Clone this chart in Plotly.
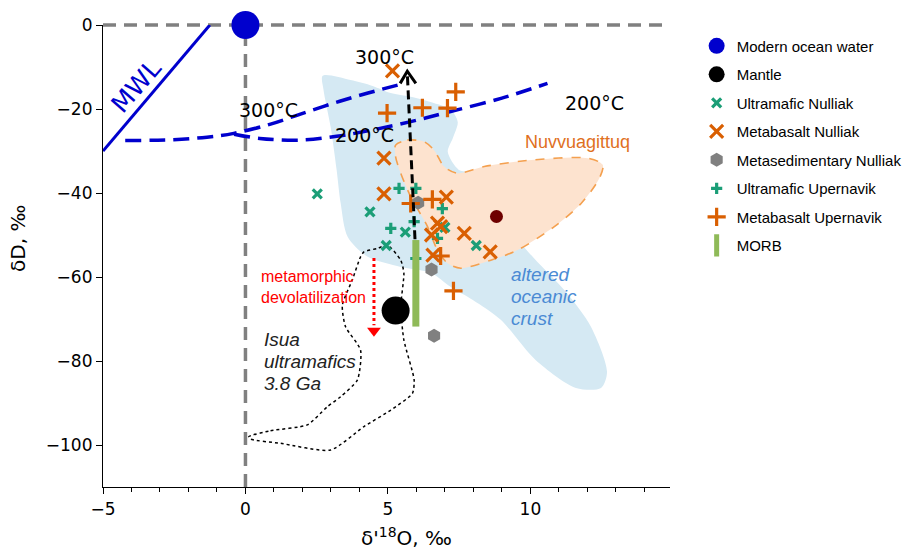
import plotly.graph_objects as go

# ---- axis extents -------------------------------------------------------
X_RANGE = [-5, 14.9]
Y_RANGE = [-110, 0]
X_TICKS = [-5, 0, 5, 10]
Y_TICKS = [0, -20, -40, -60, -80, -100]

# ---- reference points ---------------------------------------------------
ocean_x, ocean_y = [0.0], [0.0]
mantle_x, mantle_y = [5.27], [-68.0]
nuvv_mean_x, nuvv_mean_y = [8.81], [-45.6]

# ---- samples ------------------------------------------------------------
ultramafic_nulliak_x = [2.52, 4.37, 4.94, 5.61, 8.10, 7.00]
ultramafic_nulliak_y = [-40.2, -44.5, -52.5, -49.3, -52.5, -48.2]

metabasalt_nulliak_x = [5.16, 4.86, 4.86, 7.05, 6.74, 6.85, 6.53, 7.68, 8.59, 6.58]
metabasalt_nulliak_y = [-10.9, -31.7, -40.2, -41.0, -47.2, -48.0, -50.0, -49.6, -54.0, -54.8]

metased_nulliak_x = [6.06, 6.53, 6.62]
metased_nulliak_y = [-42.3, -58.2, -74.0]

ultramafic_upernavik_x = [5.39, 5.98, 6.91, 5.10, 5.92, 6.74, 5.98]
ultramafic_upernavik_y = [-38.9, -38.9, -43.7, -48.4, -46.8, -50.8, -55.6]

metabasalt_upernavik_x = [4.97, 6.21, 7.09, 7.38, 6.56, 5.80, 6.85, 7.30]
metabasalt_upernavik_y = [-21.0, -19.7, -19.8, -15.9, -41.5, -42.5, -55.0, -63.3]

# MORB range
morb_x = [5.98, 5.98]
morb_y = [-51.2, -71.8]

# ---- lines --------------------------------------------------------------
mwl_x = [-5.0, -1.25]
mwl_y = [-30.0, 0.0]

curve_300_x = [-4.22, -2.52, -1.35, -0.41, 0.88, 1.93, 3.10, 4.30, 5.57]
curve_300_y = [-27.5, -27.3, -26.7, -25.8, -23.6, -21.2, -18.6, -16.2, -13.9]

curve_200_x = [-0.40, 0.50, 1.93, 3.20, 4.30, 5.80, 7.20, 9.00, 10.60]
curve_200_y = [-26.0, -27.0, -27.4, -26.5, -25.2, -23.0, -20.6, -17.4, -13.9]

exchange_x = [5.95, 5.68]
exchange_y = [-51.0, -11.4]
exchange_head_x = [5.43, 5.68, 5.98]
exchange_head_y = [-13.9, -11.0, -13.9]

devol_x = [4.51, 4.51]
devol_y = [-55.5, -71.5]
devol_tip_x, devol_tip_y = [4.51], [-72.8]

# ---- fields -------------------------------------------------------------
crust_x = [2.71, 3.69, 4.46, 5.10, 5.80, 6.61, 7.21, 7.45, 7.28, 7.10, 7.49, 8.19,
           9.14, 10.12, 11.25, 12.13, 12.69, 12.48, 11.60, 10.19, 8.96, 7.98, 7.21,
           6.50, 5.45, 4.29, 3.59, 3.34, 3.20, 2.99, 2.74, 2.71]
crust_y = [-12.1, -13.1, -14.5, -16.2, -17.1, -18.6, -20.2, -23.1, -26.9, -30.2, -34.5, -35.5,
           -47.6, -55.5, -63.6, -71.9, -82.6, -86.4, -86.4, -79.8, -70.2, -65.5, -62.4,
           -59.0, -57.6, -55.2, -50.5, -42.4, -34.5, -24.3, -15.5, -12.1]

nuvv_x = [5.27, 5.68, 6.27, 6.62, 6.97, 7.44, 8.38, 10.13, 12.01, 12.54, 12.42, 11.78,
          10.84, 9.55, 8.61, 7.56, 7.09, 6.74, 6.39, 5.80, 5.45, 5.27, 5.27]
nuvv_y = [-28.6, -27.4, -27.8, -29.8, -33.7, -35.3, -33.7, -32.1, -31.7, -33.3, -36.5, -42.5,
          -48.0, -53.6, -56.0, -57.9, -56.7, -53.6, -48.0, -40.9, -35.3, -31.4, -28.6]

isua_x = [0.12, 0.88, 2.17, 2.87, 3.34, 3.93, 4.04, 3.51, 3.40, 3.75, 4.04, 4.16, 4.63,
          4.98, 5.45, 5.56, 5.45, 5.56, 5.92, 5.86, 5.10, 4.16, 2.99, 1.23, 0.18, 0.12]
isua_y = [-98.0, -96.6, -95.2, -90.9, -88.5, -84.5, -77.4, -71.8, -66.7, -60.7, -55.2, -54.0, -53.2,
          -52.4, -56.0, -59.1, -67.1, -75.0, -84.5, -87.7, -91.7, -95.6, -101.2, -99.6, -98.6, -98.0]

GREEN = "#1b9e77"
ORANGE = "#d95f02"
GRAY = "#808080"
BLUE = "#0000cd"
MORB_GREEN = "#8fba58"
TICK_FONT = "DejaVu Sans"
TEXT_FONT = "Liberation Sans"

fig = go.Figure()

# fields
fig.add_trace(go.Scatter(x=crust_x, y=crust_y, mode="lines", fill="toself",
                         fillcolor="#d5e9f3", line=dict(width=0, shape="spline", smoothing=0.8),
                         hoverinfo="skip", showlegend=False))
fig.add_trace(go.Scatter(x=nuvv_x, y=nuvv_y, mode="lines", fill="toself",
                         fillcolor="#fde3cf",
                         line=dict(width=1.6, color="#f4a04f", dash="dash", shape="spline", smoothing=0.8),
                         hoverinfo="skip", showlegend=False))

# meteoric water line and fractionation curves
fig.add_trace(go.Scatter(x=mwl_x, y=mwl_y, mode="lines",
                         line=dict(color=BLUE, width=3), showlegend=False, hoverinfo="skip"))
fig.add_trace(go.Scatter(x=curve_300_x, y=curve_300_y, mode="lines",
                         line=dict(color=BLUE, width=3.5, dash="16px,8px", shape="spline"),
                         showlegend=False, hoverinfo="skip"))
fig.add_trace(go.Scatter(x=curve_200_x, y=curve_200_y, mode="lines",
                         line=dict(color=BLUE, width=3.5, dash="16px,8px", shape="spline"),
                         showlegend=False, hoverinfo="skip"))

# mantle and Nuvvuagittuq mean
fig.add_trace(go.Scatter(x=mantle_x, y=mantle_y, mode="markers", name="Mantle",
                         legendrank=2, legendgroup="g2",
                         marker=dict(size=28, color="black"), cliponaxis=False))
fig.add_trace(go.Scatter(x=nuvv_mean_x, y=nuvv_mean_y, mode="markers", showlegend=False,
                         marker=dict(size=13, color="#6e0000")))

# Isua ultramafics outline
fig.add_trace(go.Scatter(x=isua_x, y=isua_y, mode="lines",
                         line=dict(color="black", width=1.5, dash="dot", shape="spline", smoothing=0.6),
                         showlegend=False, hoverinfo="skip"))

# samples
fig.add_trace(go.Scatter(x=metased_nulliak_x, y=metased_nulliak_y, mode="markers",
                         name="Metasedimentary Nulliak", legendrank=5, legendgroup="g5",
                         marker=dict(symbol="hexagon", size=14, color=GRAY)))
fig.add_trace(go.Scatter(x=ultramafic_nulliak_x, y=ultramafic_nulliak_y, mode="markers",
                         name="Ultramafic Nulliak", legendrank=3, legendgroup="g3",
                         marker=dict(symbol="x-thin", size=9, color=GREEN,
                                     line=dict(color=GREEN, width=3.2))))
fig.add_trace(go.Scatter(x=ultramafic_upernavik_x, y=ultramafic_upernavik_y, mode="markers",
                         name="Ultramafic Upernavik", legendrank=6, legendgroup="g6",
                         marker=dict(symbol="cross-thin", size=8, color=GREEN,
                                     line=dict(color=GREEN, width=3.2))))
fig.add_trace(go.Scatter(x=metabasalt_nulliak_x, y=metabasalt_nulliak_y, mode="markers",
                         name="Metabasalt Nulliak", legendrank=4, legendgroup="g4",
                         marker=dict(symbol="x-thin", size=13, color=ORANGE,
                                     line=dict(color=ORANGE, width=3.2))))
fig.add_trace(go.Scatter(x=metabasalt_upernavik_x, y=metabasalt_upernavik_y, mode="markers",
                         name="Metabasalt Upernavik", legendrank=7, legendgroup="g7",
                         marker=dict(symbol="cross-thin", size=13, color=ORANGE,
                                     line=dict(color=ORANGE, width=3.2))))

# isotope exchange arrow (black dashed)
fig.add_trace(go.Scatter(x=exchange_x, y=exchange_y, mode="lines",
                         line=dict(color="black", width=3, dash="9px,5px"),
                         showlegend=False, hoverinfo="skip"))
fig.add_trace(go.Scatter(x=exchange_head_x, y=exchange_head_y, mode="lines",
                         line=dict(color="black", width=3),
                         showlegend=False, hoverinfo="skip"))

# metamorphic devolatilization arrow (red dotted)
fig.add_trace(go.Scatter(x=devol_x, y=devol_y, mode="lines",
                         line=dict(color="red", width=3, dash="dot"),
                         showlegend=False, hoverinfo="skip"))
fig.add_trace(go.Scatter(x=devol_tip_x, y=devol_tip_y, mode="markers",
                         marker=dict(symbol="triangle-down", size=12, color="red"),
                         showlegend=False, hoverinfo="skip"))

# MORB bar
fig.add_trace(go.Scatter(x=morb_x, y=morb_y, mode="lines",
                         line=dict(color=MORB_GREEN, width=7),
                         showlegend=False, hoverinfo="skip"))
fig.add_trace(go.Scatter(x=[None], y=[None], mode="markers", name="MORB",
                         legendrank=8, legendgroup="g8",
                         marker=dict(symbol="line-ns", size=22, color=MORB_GREEN,
                                     line=dict(color=MORB_GREEN, width=5))))

# modern ocean water
fig.add_trace(go.Scatter(x=ocean_x, y=ocean_y, mode="markers", name="Modern ocean water",
                         legendrank=1, legendgroup="g1",
                         marker=dict(size=28, color=BLUE), cliponaxis=False))

# zero reference lines
fig.add_shape(type="line", xref="paper", yref="paper", x0=0, x1=1, y0=1, y1=1,
              line=dict(color=GRAY, width=3.5, dash="13px,8px"), layer="below")
fig.add_shape(type="line", xref="x", yref="paper", x0=0, x1=0, y0=0, y1=1,
              line=dict(color=GRAY, width=3.5, dash="13px,8px"), layer="below")

# labels
def label(x, y, text, size, color="black", family=TICK_FONT, angle=0, xanchor="center"):
    fig.add_annotation(x=x, y=y, xref="x", yref="y", text=text, showarrow=False,
                       font=dict(size=size, color=color, family=family),
                       textangle=angle, xanchor=xanchor, yanchor="middle")

label(4.89, -7.5, "300°C", 19)
label(0.82, -20.2, "300°C", 19)
label(4.19, -26.2, "200°C", 19)
label(12.24, -18.6, "200°C", 19)
label(-3.85, -14.6, "MWL", 25, color=BLUE, angle=-49)
label(11.66, -27.8, "Nuvvuagittuq", 18, color="#e0701e", family=TEXT_FONT)
label(9.26, -59.5, "<i>altered</i>", 19, color="#4a8ad4", family=TEXT_FONT, xanchor="left")
label(9.26, -64.7, "<i>oceanic</i>", 19, color="#4a8ad4", family=TEXT_FONT, xanchor="left")
label(9.26, -69.8, "<i>crust</i>", 19, color="#4a8ad4", family=TEXT_FONT, xanchor="left")
label(0.49, -59.8, "metamorphic", 16, color="red", family=TEXT_FONT, xanchor="left")
label(0.49, -64.8, "devolatilization", 16, color="red", family=TEXT_FONT, xanchor="left")
label(0.59, -74.8, "<i>Isua</i>", 19, color="#222222", family=TEXT_FONT, xanchor="left")
label(0.59, -80.2, "<i>ultramafics</i>", 19, color="#222222", family=TEXT_FONT, xanchor="left")
label(0.59, -85.3, "<i>3.8 Ga</i>", 19, color="#222222", family=TEXT_FONT, xanchor="left")

# axis titles
fig.add_annotation(x=0.536, y=-0.108, xref="paper", yref="paper", showarrow=False,
                   text="δ'<sup>18</sup>O, ‰", font=dict(size=20, family=TICK_FONT, color="black"),
                   xanchor="center", yanchor="middle")
fig.add_annotation(x=-0.150, y=0.539, xref="paper", yref="paper", showarrow=False,
                   text="δD, ‰", textangle=-90, font=dict(size=20, family=TICK_FONT, color="black"),
                   xanchor="center", yanchor="middle")

fig.update_layout(
    width=921, height=551,
    margin=dict(l=103, r=251, t=25, b=64),
    plot_bgcolor="white", paper_bgcolor="white",
    legend=dict(x=1.047, y=0.99, xanchor="left", yanchor="top",
                font=dict(size=15, family=TEXT_FONT, color="black"),
                itemwidth=30, tracegroupgap=6, bgcolor="rgba(0,0,0,0)"),
)
fig.update_xaxes(range=X_RANGE, tickvals=X_TICKS, ticks="outside", ticklen=6, tickwidth=1.2,
                 tickcolor="black", showline=True, linecolor="black", linewidth=1.2,
                 showgrid=False, zeroline=False,
                 tickfont=dict(size=17, family=TICK_FONT, color="black"),
                 minor=dict(dtick=1, tick0=0, ticks="outside", ticklen=3.5, tickwidth=1,
                            tickcolor="black", showgrid=False))
fig.update_yaxes(range=Y_RANGE, tickvals=Y_TICKS, ticks="outside", ticklen=6, tickwidth=1.2,
                 tickcolor="black", showline=True, linecolor="black", linewidth=1.2,
                 showgrid=False, zeroline=False,
                 tickfont=dict(size=17, family=TICK_FONT, color="black"))

fig.write_html("out.html")
